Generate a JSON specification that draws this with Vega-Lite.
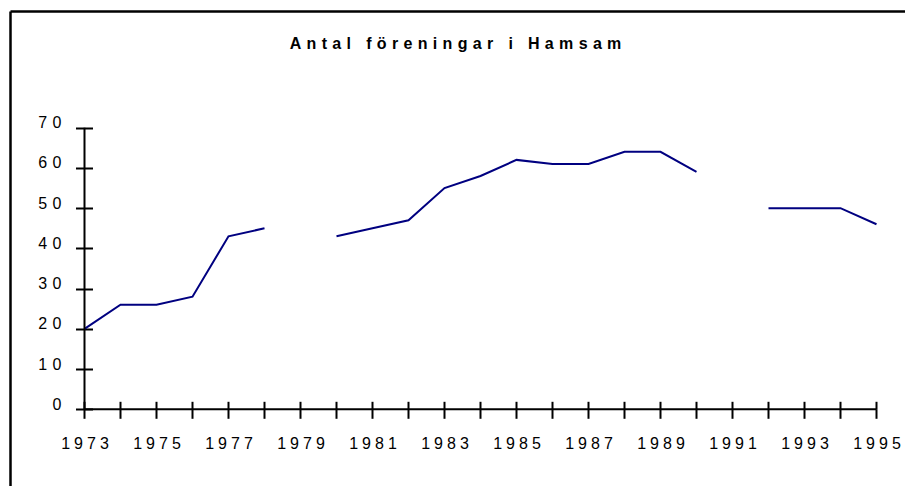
{
  "$schema": "https://vega.github.io/schema/vega-lite/v6.json",
  "autosize": {"type": "none"},
  "width": 895,
  "height": 475,
  "padding": {"left": 10, "top": 11, "right": 0, "bottom": 0},
  "background": "white",
  "config": {
    "view": {"stroke": null},
    "axis": {"grid": false, "title": null, "labelFont": "Liberation Sans", "labelFontSize": 16, "labelColor": "black", "tickColor": "black", "domainColor": "black", "labelOverlap": false, "labelFlush": false, "labelBound": false}
  },
  "title": {
    "text": {"expr": "join(split('Antal föreningar i Hamsam',''),'\u2004')"},
    "font": "Liberation Sans",
    "fontSize": 16,
    "fontWeight": "bold",
    "color": "black",
    "anchor": "middle",
    "frame": "group",
    "baseline": "alphabetic",
    "dx": -2,
    "offset": -54
  },
  "datasets": {
    "series": [
      {"year": 1973, "antal": 20},
      {"year": 1974, "antal": 26},
      {"year": 1975, "antal": 26},
      {"year": 1976, "antal": 28},
      {"year": 1977, "antal": 43},
      {"year": 1978, "antal": 45},
      {"year": 1979, "antal": null},
      {"year": 1980, "antal": 43},
      {"year": 1981, "antal": 45},
      {"year": 1982, "antal": 47},
      {"year": 1983, "antal": 55},
      {"year": 1984, "antal": 58},
      {"year": 1985, "antal": 62},
      {"year": 1986, "antal": 61},
      {"year": 1987, "antal": 61},
      {"year": 1988, "antal": 64},
      {"year": 1989, "antal": 64},
      {"year": 1990, "antal": 59},
      {"year": 1991, "antal": null},
      {"year": 1992, "antal": 50},
      {"year": 1993, "antal": 50},
      {"year": 1994, "antal": 50},
      {"year": 1995, "antal": 46}
    ],
    "yaxisline": [{"year": 1973, "lo": 0, "hi": 70}],
    "xaxisline": [{"start": 1973, "end": 1995, "level": 0}]
  },
  "layer": [
    {
      "data": {"name": "series"},
      "mark": {"type": "line", "color": "#000080", "strokeWidth": 2, "invalid": "break-paths-filter-domains"},
      "encoding": {
        "x": {"field": "year", "type": "quantitative",
          "scale": {"domain": [1970.9306, 1995.7917], "nice": false, "zero": false},
          "axis": {"orient": "top", "domain": true, "domainWidth": 2.5, "ticks": false, "labels": false}},
        "y": {"field": "antal", "type": "quantitative",
          "scale": {"domain": [-19.066, 99.01], "nice": false, "zero": false},
          "axis": {"orient": "left", "domain": true, "domainWidth": 2.5, "ticks": false, "labels": false}}
      }
    },
    {
      "data": {"name": "yaxisline"},
      "mark": {"type": "rule", "color": "black", "strokeWidth": 2},
      "encoding": {
        "x": {"field": "year", "type": "quantitative",
          "scale": {"domain": [1970.9306, 1995.7917], "nice": false, "zero": false},
          "axis": {"orient": "bottom", "offset": -76.7, "domain": false,
            "values": [1973,1974,1975,1976,1977,1978,1979,1980,1981,1982,1983,1984,1985,1986,1987,1988,1989,1990,1991,1992,1993,1994,1995],
            "tickSize": 9, "tickWidth": 2, "labelPadding": 29.7, "labelBaseline": "alphabetic",
            "labelExpr": "datum.value % 2 == 1 ? join(split(toString(datum.value),''),'\u2005') : ''"}},
        "y": {"field": "lo", "type": "quantitative",
          "scale": {"domain": [-19.066, 99.01], "nice": false, "zero": false},
          "axis": {"orient": "left", "offset": -74.5, "domain": false,
            "values": [0,10,20,30,40,50,60,70],
            "tickSize": 9, "tickWidth": 2, "labelPadding": 14.5, "labelBaseline": "alphabetic",
            "labelExpr": "join(split(datum.label,''),'\u2004')"}},
        "y2": {"field": "hi"}
      }
    },
    {
      "data": {"name": "xaxisline"},
      "mark": {"type": "rule", "color": "black", "strokeWidth": 2},
      "encoding": {
        "x": {"field": "start", "type": "quantitative",
          "scale": {"domain": [1970.9306, 1995.7917], "nice": false, "zero": false},
          "axis": {"orient": "bottom", "offset": -76.7, "domain": false,
            "values": [1973,1974,1975,1976,1977,1978,1979,1980,1981,1982,1983,1984,1985,1986,1987,1988,1989,1990,1991,1992,1993,1994,1995],
            "tickSize": -8, "tickWidth": 2, "labels": false}},
        "x2": {"field": "end"},
        "y": {"field": "level", "type": "quantitative",
          "scale": {"domain": [-19.066, 99.01], "nice": false, "zero": false},
          "axis": {"orient": "left", "offset": -74.5, "domain": false,
            "values": [0,10,20,30,40,50,60,70],
            "tickSize": -8, "tickWidth": 2, "labels": false}}
      }
    }
  ],
  "resolve": {"axis": {"x": "independent", "y": "independent"}}
}
